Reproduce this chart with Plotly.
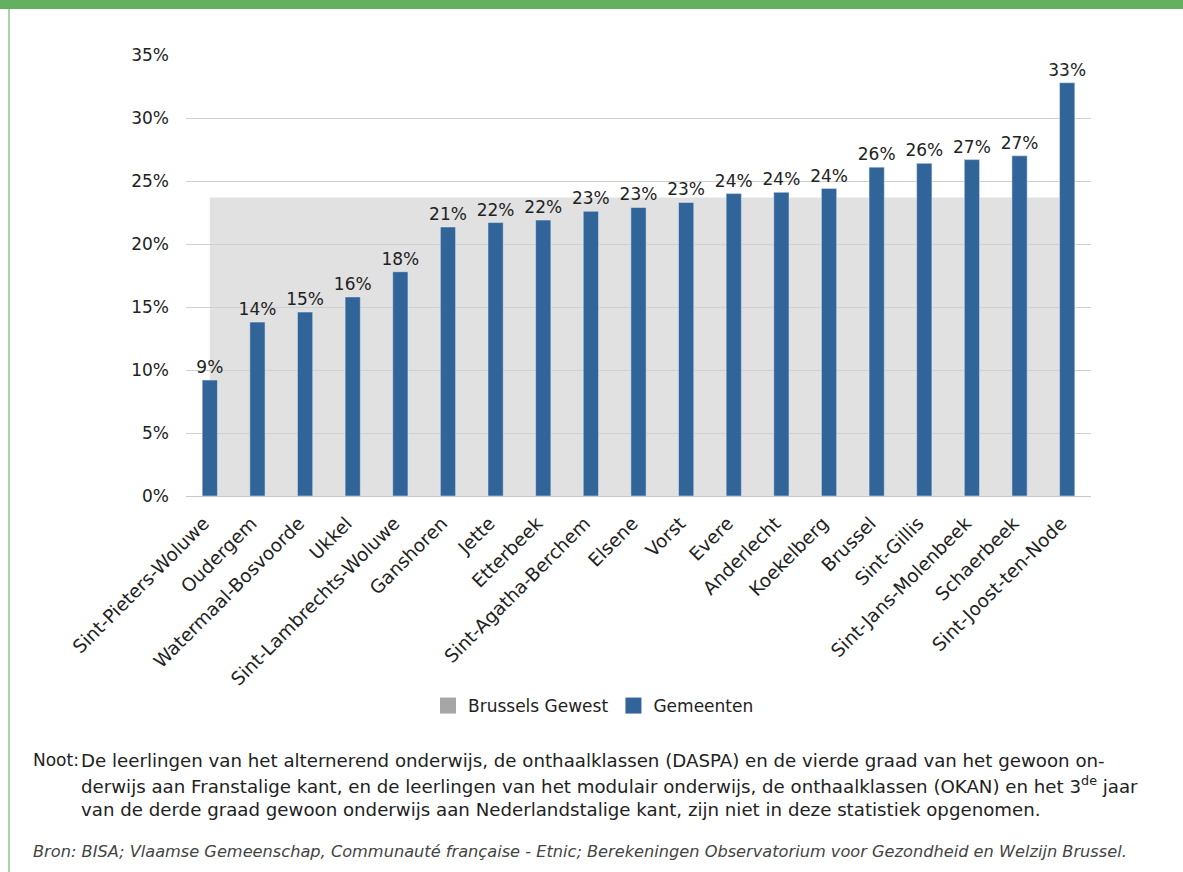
import plotly.graph_objects as go

categories = ["Sint-Pieters-Woluwe", "Oudergem", "Watermaal-Bosvoorde", "Ukkel",
              "Sint-Lambrechts-Woluwe", "Ganshoren", "Jette", "Etterbeek",
              "Sint-Agatha-Berchem", "Elsene", "Vorst", "Evere", "Anderlecht",
              "Koekelberg", "Brussel", "Sint-Gillis", "Sint-Jans-Molenbeek",
              "Schaerbeek", "Sint-Joost-ten-Node"]
gemeenten = [9.2, 13.8, 14.6, 15.8, 17.8, 21.35, 21.7, 21.9, 22.6, 22.9, 23.3,
             24.0, 24.1, 24.4, 26.1, 26.4, 26.7, 27.0, 32.8]
gewest_value = 23.7
y_ticks = [0, 5, 10, 15, 20, 25, 30, 35]
y_ticklabels = ["0%", "5%", "10%", "15%", "20%", "25%", "30%", "35%"]

W, H = 1183, 872
ML, MR, MT, MB = 186, 92, 55, 376
PW, PH = W - ML - MR, H - MT - MB

def px_x(x):
    return (x - ML) / PW

def px_y(y):
    return (H - MB - y) / PH

BLUE = "#31659A"
GRAY_AREA = "#E1E1E1"
GRAY_LEG = "#A6A6A8"
TXT = "#222222"
FONT = "DejaVu Sans"

fig = go.Figure()

fig.add_trace(go.Bar(
    x=categories, y=gemeenten, name="Gemeenten", marker_color=BLUE,
    width=0.32, text=[f"{round(v):d}%" for v in gemeenten],
    textposition="outside", cliponaxis=False, constraintext="none",
    showlegend=False,
    textfont=dict(family=FONT, size=17, color=TXT)))

# legend-only entries
fig.add_trace(go.Scatter(
    x=[categories[0]], y=[None], mode="markers", name="Brussels Gewest",
    marker=dict(symbol="square", size=16, color=GRAY_LEG), legendrank=1))
fig.add_trace(go.Scatter(
    x=[categories[0]], y=[None], mode="markers", name="Gemeenten",
    marker=dict(symbol="square", size=16, color=BLUE), legendrank=2))

# Brussels Gewest area: from first to last category at the regional value
fig.add_shape(type="rect", xref="x", yref="y",
              x0=categories[0], x1=categories[-1], y0=0, y1=gewest_value,
              fillcolor=GRAY_AREA, line_width=0, layer="below")

fig.update_layout(
    width=W, height=H,
    margin=dict(l=ML, r=MR, t=MT, b=MB, pad=0),
    paper_bgcolor="white", plot_bgcolor="rgba(0,0,0,0)",
    barmode="overlay",
    font=dict(family=FONT, color=TXT),
    legend=dict(orientation="h", x=px_x(428), xanchor="left",
                y=px_y(706), yanchor="middle",
                font=dict(family=FONT, size=17, color=TXT),
                itemwidth=30),
    showlegend=True,
)

fig.update_yaxes(range=[0, 35], tickvals=y_ticks, ticktext=y_ticklabels,
                 showgrid=True, gridcolor="#D0D0D0", gridwidth=1,
                 zeroline=True, zerolinecolor="#C8C8C8", zerolinewidth=1,
                 showline=False, ticks="", ticklabelstandoff=16,
                 tickfont=dict(family=FONT, size=17, color=TXT))
fig.update_xaxes(type="category", categoryorder="array", categoryarray=categories,
                 range=[-0.5, len(categories) - 0.5],
                 tickangle=-45, showline=False, ticks="",
                 ticklabelshift=-6, ticklabelstandoff=12,
                 tickfont=dict(family=FONT, size=18.5, color=TXT))

# green frame
fig.add_shape(type="rect", xref="paper", yref="paper",
              x0=px_x(0), x1=px_x(W), y0=px_y(9), y1=px_y(0),
              fillcolor="#63B060", line_width=0, layer="above")
fig.add_shape(type="rect", xref="paper", yref="paper",
              x0=px_x(8), x1=px_x(10), y0=px_y(H), y1=px_y(9),
              fillcolor="#A8D5A3", line_width=0, layer="above")

fig.add_annotation(xref="paper", yref="paper", x=px_x(31), y=px_y(760),
                   xanchor="left", yanchor="middle", showarrow=False,
                   text="Noot:", font=dict(family=FONT, size=17, color=TXT))
note_font = dict(family=FONT, size=18.2, color=TXT)
note_lines = [
    "De leerlingen van het alternerend onderwijs, de onthaalklassen (DASPA) en de vierde graad van het gewoon on-",
    "derwijs aan Franstalige kant, en de leerlingen van het modulair onderwijs, de onthaalklassen (OKAN) en het 3<sup>de</sup> jaar",
    "van de derde graad gewoon onderwijs aan Nederlandstalige kant, zijn niet in deze statistiek opgenomen.",
]
for i, line in enumerate(note_lines):
    fig.add_annotation(xref="paper", yref="paper", x=px_x(79), y=px_y(760 + 24.5 * i),
                       xanchor="left", yanchor="middle", showarrow=False,
                       text=line, font=note_font)
fig.add_annotation(xref="paper", yref="paper", x=px_x(31), y=px_y(851),
                   xanchor="left", yanchor="middle", showarrow=False,
                   text="<i>Bron: BISA; Vlaamse Gemeenschap, Communauté française - Etnic; Berekeningen Observatorium voor Gezondheid en Welzijn Brussel.</i>",
                   font=dict(family=FONT, size=16.2, color="#444444"))

fig.write_html("out.html", config={"displayModeBar": False},
               post_script="document.body.style.margin='0';")
